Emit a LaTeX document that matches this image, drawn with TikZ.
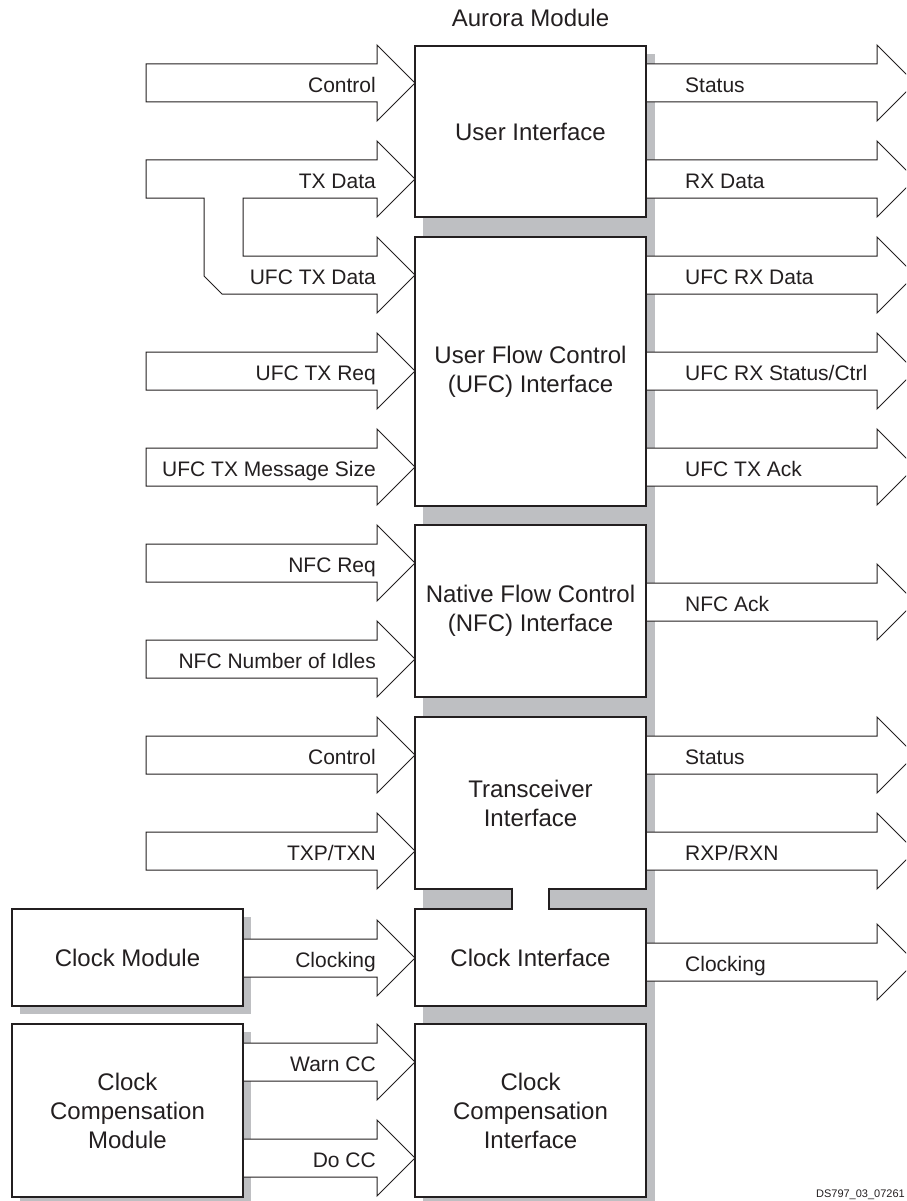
\documentclass[tikz,border=0pt]{standalone}
\usepackage{fontspec}
\setmainfont{Liberation Sans}
\definecolor{ink}{RGB}{35,31,32}
\definecolor{shadowgray}{RGB}{190,191,194}

\begin{document}
\begin{tikzpicture}[
	x=1pt, y=-1pt,
	block/.style={draw=ink, line width=2.6pt, fill=white, inner sep=0pt, align=center, minimum width=231pt, text=ink, font=\fontsize{24}{29}\selectfont},
	fat/.style={draw=ink, line width=1pt, fill=white, line join=miter},
	inlabel/.style={anchor=base east, inner sep=0pt, text=ink, font=\fontsize{21}{25}\selectfont},
	outlabel/.style={anchor=base west, inner sep=0pt, text=ink, font=\fontsize{21}{25}\selectfont},
	pics/inarrow/.style={code={
		\draw[fat] (-269,-19) -- (-38,-19) -- (-38,-38) -- (0,0) -- (-38,38) -- (-38,19) -- (-269,19) -- cycle;
		\node[inlabel] (-text) at (-39,9.5) {#1};
	}},
	pics/outarrow/.style={code={
		\draw[fat] (0,-19) -- (231,-19) -- (231,-38) -- (269,0) -- (231,38) -- (231,19) -- (0,19) -- cycle;
		\node[outlabel] (-text) at (39,9.5) {#1};
	}}
]
\path[use as bounding box, clip] (0,0) rectangle (906,1201);

% Shadows
\fill[shadowgray] (423,54) rectangle (655,1210);
\fill[shadowgray] (20,917) rectangle (251,1014);
\fill[shadowgray] (20,1032) rectangle (251,1205);

% Inputs
\pic (inctl) at (415,83) {inarrow=Control};
\draw[fat] (146,160) -- (377,160) -- (377,141) -- (415,179) -- (377,217) -- (377,198) -- (243,198) -- (243,256) -- (377,256) -- (377,237) -- (415,275) -- (377,313) -- (377,294) -- (222,294) -- (204,276) -- (204,198) -- (146,198) -- cycle;
\node[inlabel] (txdata) at (376,188.5) {TX Data};
\node[inlabel] (ufctxdata) at (376,284.5) {UFC TX Data};
\pic (ufcreq) at (415,371) {inarrow=UFC TX Req};
\pic (ufcsize) at (415,467) {inarrow=UFC TX Message Size};
\pic (nfcreq) at (415,563) {inarrow=NFC Req};
\pic (nfcidle) at (415,659) {inarrow=NFC Number of Idles};
\pic (trxctl) at (415,755) {inarrow=Control};
\pic (txp) at (415,851) {inarrow=TXP/TXN};
\pic (clkin) at (415,958) {inarrow=Clocking};
\pic (warncc) at (415,1062) {inarrow=Warn CC};
\pic (docc) at (415,1158) {inarrow=Do CC};

% Outputs
\pic (status) at (646,83) {outarrow=Status};
\pic (rxdata) at (646,179) {outarrow=RX Data};
\pic (ufcrxdata) at (646,275) {outarrow=UFC RX Data};
\pic (ufcrxstat) at (646,371) {outarrow=UFC RX Status/Ctrl};
\pic (ufcack) at (646,467) {outarrow=UFC TX Ack};
\pic (nfcack) at (646,602) {outarrow=NFC Ack};
\pic (trxstat) at (646,755) {outarrow=Status};
\pic (rxp) at (646,851) {outarrow=RXP/RXN};
\pic (clkout) at (646,962) {outarrow=Clocking};

% Aurora module column
\node[text=ink, anchor=base, font=\fontsize{24}{29}\selectfont] (title) at (530.5,27) {Aurora Module};
\node[block, minimum height=171pt] (ui) at (530.5,131.5) {User Interface};
\node[block, minimum height=269pt] (ufc) at (530.5,371.5) {User Flow Control\\(UFC) Interface};
\node[block, minimum height=172pt] (nfc) at (530.5,611) {Native Flow Control\\(NFC) Interface};
\node[block, minimum height=172pt] (trx) at (530.5,803) {Transceiver\\Interface};
\node[block, minimum height=97pt] (clki) at (530.5,957.5) {Clock Interface};
\node[block, minimum height=173pt] (cci) at (530.5,1110.5) {Clock\\Compensation\\Interface};

% Channel between transceiver and clock interface
\fill[white] (513.3,886) rectangle (547.7,912);
\draw[ink, line width=2.6pt] (512,887.7) -- (512,910.3);
\draw[ink, line width=2.6pt] (549,887.7) -- (549,910.3);

% Left side modules
\node[block, minimum height=97pt] (clkm) at (127.5,957.5) {Clock Module};
\node[block, minimum height=173pt] (ccm) at (127.5,1110.5) {Clock\\Compensation\\Module};

\node[anchor=south east, inner sep=1pt, text=ink, font=\fontsize{11}{13}\selectfont] (code) at (906,1201) {DS797\_03\_07261};

\end{tikzpicture}
\end{document}
